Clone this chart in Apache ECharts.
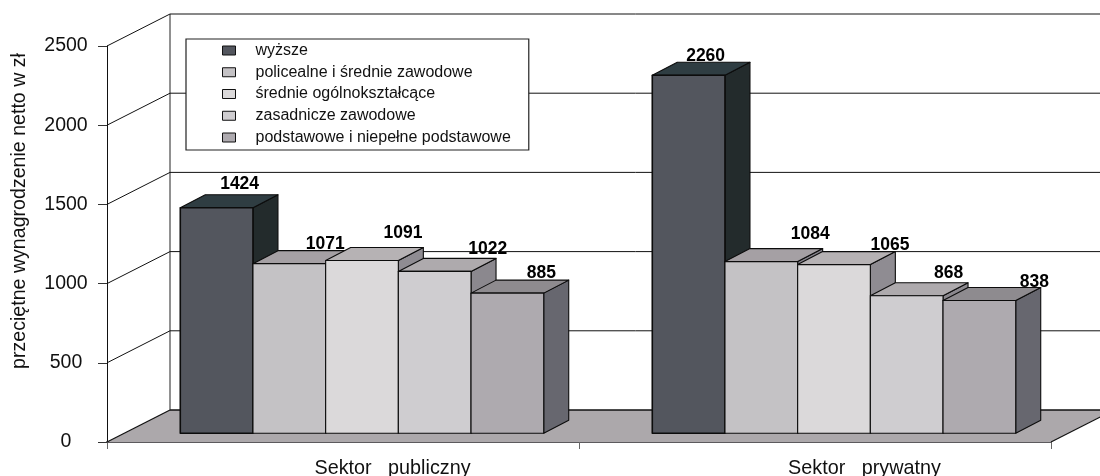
<!DOCTYPE html>
<html><head><meta charset="utf-8">
<style>html,body{margin:0;padding:0;background:#fff}#c{width:1100px;height:476px}</style>
<script src="https://cdn.jsdelivr.net/npm/echarts@6/dist/echarts.min.js"></script>
</head><body><div id="c"></div>
<script>
const categories = ['Sektor   publiczny', 'Sektor   prywatny'];
const levels = ['wyższe', 'policealne i średnie zawodowe', 'średnie ogólnokształcące', 'zasadnicze zawodowe', 'podstawowe i niepełne podstawowe'];
const wyzsze = [1424, 2260];
const policealne = [1071, 1084];
const srednie = [1091, 1065];
const zasadnicze = [1022, 868];
const podstawowe = [885, 838];
const yTicks = [0, 500, 1000, 1500, 2000, 2500];
const seriesValues = [wyzsze, policealne, srednie, zasadnicze, podstawowe];

// styling
const faces = [
  {front:'#53565e', top:'#2f3d42', side:'#232b2c'},
  {front:'#c4c2c5', top:'#a5a0a4', side:'#85828a'},
  {front:'#dbd9da', top:'#b6b2b4', side:'#8f8c92'},
  {front:'#cfcdd0', top:'#aeaaad', side:'#8b888e'},
  {front:'#aeaaaf', top:'#8e8b8f', side:'#67676f'}
];
// label nudges relative to the centre of each bar's top edge: [series][category] = [dx, dy]
const labelNudge = [
  [[23,-24],[17,-19]],
  [[36,-19.5],[49,-27.5]],
  [[41,-27.5],[56,-19.5]],
  [[53,-22],[42,-23]],
  [[34,-20],[55,-18.5]]
];
// how far each legend text sits above its swatch
const legendRise = [0, 2.3, 2.3, 0, 3.4];
const FONT = '"Liberation Sans", Arial, sans-serif';
const WALL = [63, -32];     // chart depth
const FRONT = [19, -8.7];   // where the bars' front face sits in the depth
const BAR = [25, -13];      // bar depth
const BAR_FRACTION = 0.154; // bar width as part of a category

function shape3d(points, fill, lw, stroke) {
  return {type:'polygon', shape:{points}, style:{fill, stroke: stroke || '#0c0c0c', lineWidth: lw === undefined ? 1.1 : lw, lineJoin:'round'}};
}
function renderBar(s) {
  return function (params, api) {
    const cat = api.value(0), v = api.value(1);
    const base = api.coord([cat, 0]);
    const topP = api.coord([cat, v]);
    const w = api.size([1, 0])[0] * BAR_FRACTION;
    const x0 = base[0] + FRONT[0] - 2.5 * w + s * w;
    const x1 = x0 + w;
    const yb = base[1] + FRONT[1];
    const yt = topP[1] + FRONT[1];
    const f = faces[s];
    const nudge = labelNudge[s][cat];
    const lw = s === 0 ? 1.6 : 1.1;
    return {type:'group', children:[
      shape3d([[x1,yt],[x1+BAR[0],yt+BAR[1]],[x1+BAR[0],yb+BAR[1]],[x1,yb]], f.side, 1.1),
      shape3d([[x0,yt],[x0+BAR[0],yt+BAR[1]],[x1+BAR[0],yt+BAR[1]],[x1,yt]], f.top, 1.1),
      shape3d([[x0,yb],[x0,yt],[x1,yt],[x1,yb]], f.front, lw),
      {type:'text', z2:100, style:{text:String(v), x:(x0+x1)/2+nudge[0], y:yt+nudge[1], align:'center', verticalAlign:'middle',
        fill:'#000', font:'bold 17.5px '+FONT}}
    ]};
  };
}
function renderWalls(params, api) {
  const v = api.value(1);
  const cs = params.coordSys;
  const p = api.coord([0, v]);
  const xl = cs.x, xr = cs.x + cs.width;
  const bx = xl + WALL[0], by = p[1] + WALL[1];
  const line = (a,b,c,d,color,lw) => ({type:'line', shape:{x1:a,y1:b,x2:c,y2:d}, style:{stroke:color||'#111', lineWidth:lw||1}});
  const kids = [];
  if (v === 0) {
    kids.push(shape3d([[xl,p[1]],[bx,by],[xr+WALL[0],by],[xr,p[1]]], '#aca8ab', 0));
    kids.push(line(xl,p[1],bx,by,'#111',1.2));
    kids.push(line(bx,by,xr+WALL[0],by,'#111',1.4));
    kids.push(line(xr,p[1],xr+WALL[0],by,'#111',1.2));
    kids.push(line(bx,by,bx,by - cs.height,'#222',1));
  } else {
    kids.push(line(xl,p[1],bx,by));
    kids.push(line(bx,by,xr+WALL[0],by));
  }
  return {type:'group', children:kids};
}

const chart = echarts.init(document.getElementById('c'), null, {renderer:'canvas'});
chart.setOption({
  animation:false,
  backgroundColor:'#fff',
  textStyle:{fontFamily:FONT},
  grid:{left:107, top:46, width:944, height:396, containLabel:false, outerBoundsMode:'none'},
  legend:{
    left:186, top:39, orient:'vertical', selectedMode:false,
    data:levels.map((n,i)=>({name:n, icon:'rect', textStyle:{padding:[3.5-legendRise[i],0,3.5+legendRise[i],15]}})),
    itemWidth:13, itemHeight:9, itemGap:0.75,
    backgroundColor:'#fff', borderColor:'#222', borderWidth:1.2,
    padding:[1,18,2,36], align:'left',
    itemStyle:{borderColor:'#111', borderWidth:1},
    textStyle:{fontFamily:FONT, fontSize:16, color:'#111', lineHeight:14}
  },
  xAxis:{
    type:'category', data:categories, boundaryGap:true,
    axisLine:{show:true, lineStyle:{color:'#5c5a5d', width:2}},
    axisTick:{show:true, length:7, alignWithLabel:false, lineStyle:{color:'#666', width:1}},
    axisLabel:{fontFamily:FONT, fontSize:19.8, color:'#111', margin:17, padding:[0,0,0,99]},
    splitLine:{show:false}
  },
  yAxis:{
    type:'value', min:0, max:2500, interval:500,
    name:'przeciętne wynagrodzenie netto w zł', nameLocation:'middle', nameGap:77, nameRotate:90,
    nameTextStyle:{fontFamily:FONT, fontSize:19.6, color:'#111', padding:[0,0,0,66]},
    axisLine:{show:true, lineStyle:{color:'#111', width:1}},
    axisTick:{show:true, length:9, lineStyle:{color:'#333', width:1}},
    axisLabel:{fontFamily:FONT, fontSize:19.5, color:'#111', align:'center', margin:41, padding:[2,0,0,0], formatter:(v)=>String(v)},
    splitLine:{show:false}
  },
  series:[
    {type:'custom', name:'walls', silent:true, z:1, clip:false,
     renderItem:renderWalls, encode:{x:0,y:1}, data:yTicks.map(v=>[0,v])}
  ].concat(levels.map((name,s)=>({
    type:'custom', name, z:2+s, clip:false, silent:true,
    itemStyle:{color:faces[s].front},
    renderItem:renderBar(s), encode:{x:0,y:1},
    data:seriesValues[s].map((v,i)=>[i,v])
  })))
});
</script></body></html>
